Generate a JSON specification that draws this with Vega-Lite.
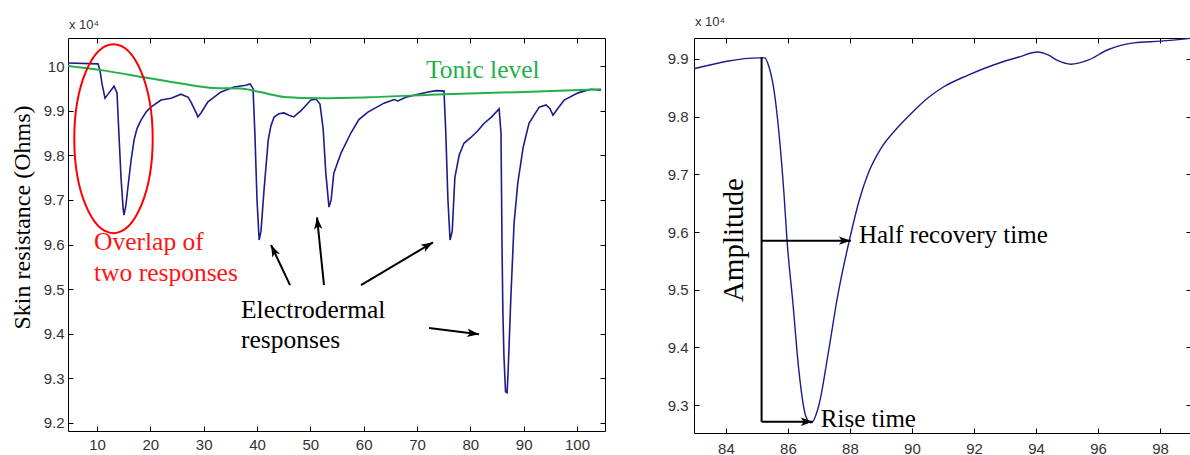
{
  "$schema": "https://vega.github.io/schema/vega-lite/v6.json",
  "padding": {"left": 9, "top": 15, "right": 0, "bottom": 0},
  "background": "white",
  "spacing": 60,
  "datasets": {
    "trace": [
      {"t":4.56,"r":10.007},{"t":10.19,"r":10.005},{"t":10.56,"r":9.99},{"t":10.94,"r":9.96},{"t":11.5,"r":9.928},{"t":12.25,"r":9.94},{"t":13.2,"r":9.955},{"t":13.75,"r":9.94},{"t":14.1,"r":9.85},{"t":14.5,"r":9.75},{"t":14.9,"r":9.68},{"t":15.06,"r":9.666},{"t":15.44,"r":9.69},{"t":15.8,"r":9.729},{"t":16.4,"r":9.79},{"t":16.94,"r":9.834},{"t":17.5,"r":9.86},{"t":18.25,"r":9.879},{"t":19.2,"r":9.897},{"t":20.1,"r":9.908},{"t":22.0,"r":9.924},{"t":23.9,"r":9.928},{"t":25.75,"r":9.937},{"t":27.1,"r":9.93},{"t":27.6,"r":9.92},{"t":28.6,"r":9.895},{"t":28.9,"r":9.886},{"t":29.5,"r":9.895},{"t":30.8,"r":9.92},{"t":33.25,"r":9.942},{"t":35.7,"r":9.953},{"t":37.9,"r":9.957},{"t":38.7,"r":9.96},{"t":39.25,"r":9.95},{"t":39.6,"r":9.85},{"t":40.0,"r":9.7},{"t":40.4,"r":9.61},{"t":40.75,"r":9.63},{"t":41.3,"r":9.72},{"t":42.1,"r":9.834},{"t":42.6,"r":9.866},{"t":43.2,"r":9.886},{"t":44.1,"r":9.893},{"t":45.06,"r":9.895},{"t":46.0,"r":9.89},{"t":46.9,"r":9.886},{"t":48.25,"r":9.9},{"t":50.1,"r":9.924},{"t":51.06,"r":9.926},{"t":51.8,"r":9.915},{"t":52.4,"r":9.86},{"t":52.9,"r":9.76},{"t":53.5,"r":9.684},{"t":53.9,"r":9.7},{"t":54.4,"r":9.76},{"t":55.75,"r":9.805},{"t":57.6,"r":9.85},{"t":59.1,"r":9.88},{"t":60.8,"r":9.897},{"t":63.8,"r":9.917},{"t":65.7,"r":9.925},{"t":66.4,"r":9.922},{"t":67.9,"r":9.93},{"t":70.2,"r":9.937},{"t":72.1,"r":9.942},{"t":73.6,"r":9.945},{"t":75.06,"r":9.944},{"t":75.4,"r":9.85},{"t":75.8,"r":9.7},{"t":76.2,"r":9.61},{"t":76.6,"r":9.63},{"t":77.1,"r":9.75},{"t":77.9,"r":9.8},{"t":78.8,"r":9.827},{"t":80.1,"r":9.84},{"t":81.4,"r":9.855},{"t":82.6,"r":9.872},{"t":83.9,"r":9.885},{"t":85.4,"r":9.904},{"t":85.75,"r":9.85},{"t":85.94,"r":9.6},{"t":86.1,"r":9.45},{"t":86.3,"r":9.35},{"t":86.6,"r":9.27},{"t":86.9,"r":9.268},{"t":87.1,"r":9.32},{"t":87.6,"r":9.482},{"t":88.2,"r":9.648},{"t":88.9,"r":9.738},{"t":89.9,"r":9.818},{"t":91.0,"r":9.872},{"t":92.9,"r":9.908},{"t":94.2,"r":9.913},{"t":94.9,"r":9.905},{"t":95.5,"r":9.89},{"t":96.4,"r":9.905},{"t":97.6,"r":9.924},{"t":100.2,"r":9.94},{"t":102.6,"r":9.948},{"t":104.5,"r":9.946}
    ],
    "tonic": [
      {"t":4.56,"r":10.0},{"t":10.75,"r":9.991},{"t":18.8,"r":9.975},{"t":25.75,"r":9.961},{"t":31.9,"r":9.951},{"t":37.0,"r":9.95},{"t":39.4,"r":9.945},{"t":42.0,"r":9.938},{"t":45.06,"r":9.931},{"t":52.0,"r":9.928},{"t":60.8,"r":9.93},{"t":75.06,"r":9.937},{"t":90.0,"r":9.942},{"t":104.5,"r":9.948}
    ],
    "zoomTrace": [
      {"t":82.97,"r":9.883},{"t":85.1,"r":9.902},{"t":85.25,"r":9.902},{"t":85.39,"r":9.886},{"t":85.55,"r":9.846},{"t":85.71,"r":9.772},{"t":85.87,"r":9.668},{"t":85.97,"r":9.586},{"t":86.16,"r":9.477},{"t":86.35,"r":9.361},{"t":86.58,"r":9.28},{"t":86.74,"r":9.269},{"t":87.0,"r":9.3},{"t":87.3,"r":9.39},{"t":87.6,"r":9.488},{"t":88.0,"r":9.59},{"t":88.3,"r":9.655},{"t":88.6,"r":9.703},{"t":89.0,"r":9.745},{"t":89.5,"r":9.779},{"t":90.0,"r":9.807},{"t":90.5,"r":9.832},{"t":91.0,"r":9.851},{"t":91.81,"r":9.872},{"t":92.65,"r":9.89},{"t":93.42,"r":9.903},{"t":94.06,"r":9.912},{"t":94.39,"r":9.907},{"t":94.71,"r":9.897},{"t":95.13,"r":9.891},{"t":95.68,"r":9.898},{"t":96.32,"r":9.916},{"t":97.16,"r":9.928},{"t":98.03,"r":9.931},{"t":99.0,"r":9.936}
    ]
  },
  "hconcat": [
    {
      "width": 537,
      "height": 393,
      "title": {"text": "x 10⁴", "anchor": "start", "frame": "group", "fontSize": 13, "font": "Liberation Sans", "fontWeight": "normal", "color": "#333", "offset": 6, "dx": 1},
      "layer": [
        {
          "data": {"name": "trace"},
          "mark": {"type": "line", "color": "#1c1c8a", "strokeWidth": 1.6},
          "encoding": {
            "x": {"field": "t", "type": "quantitative", "scale": {"domain": [4.56, 105.25], "nice": false, "zero": false},
                  "axis": {"values": [10,20,30,40,50,60,70,80,90,100], "title": null, "labelPadding": 11}},
            "y": {"field": "r", "type": "quantitative", "scale": {"domain": [9.182, 10.063], "nice": false, "zero": false},
                  "axis": {"values": [9.2,9.3,9.4,9.5,9.6,9.7,9.8,9.9,10.0], "format": "~g", "labelPadding": 9,
                           "title": "Skin resistance (Ohms)", "titleFont": "Liberation Serif", "titleFontSize": 24, "titleFontWeight": "normal", "titleColor": "#000",
                           "titleAngle": -90, "titleX": -46, "titleY": 179, "titleAlign": "center", "titleBaseline": "middle"}}
          }
        },
        {
          "data": {"name": "tonic"},
          "mark": {"type": "point", "opacity": 0},
          "encoding": {
            "x": {"field": "t", "type": "quantitative", "axis": {"orient": "top", "labels": false, "values": [10,20,30,40,50,60,70,80,90,100], "title": null}},
            "y": {"field": "r", "type": "quantitative", "axis": {"orient": "right", "labels": false, "values": [9.2,9.3,9.4,9.5,9.6,9.7,9.8,9.9,10.0], "title": null}}
          }
        },
        {
          "data": {"name": "tonic"},
          "mark": {"type": "line", "color": "#22b04b", "strokeWidth": 2, "interpolate": "monotone"},
          "encoding": {
            "x": {"field": "t", "type": "quantitative", "axis": null},
            "y": {"field": "r", "type": "quantitative", "axis": null}
          }
        },
        {
          "data": {"values": [{"x": 13.09, "y": 9.8374}]},
          "mark": {"type": "point", "shape": "M 0 -1 A 0.415 1 0 1 1 0 1 A 0.415 1 0 1 1 0 -1 Z", "size": 35721, "filled": false, "stroke": "#ff0000", "strokeWidth": 2, "opacity": 1},
          "encoding": {
            "x": {"field": "x", "type": "quantitative", "axis": null},
            "y": {"field": "y", "type": "quantitative", "axis": null}
          }
        },
        {
          "data": {"values": [{"x": 9.44, "y": 9.5874, "label": "Overlap of"}, {"x": 9.44, "y": 9.518, "label": "two responses"}]},
          "mark": {"type": "text", "align": "left", "baseline": "alphabetic", "font": "Liberation Serif", "fontSize": 25.5, "color": "#ff1414"},
          "encoding": {
            "x": {"field": "x", "type": "quantitative", "axis": null},
            "y": {"field": "y", "type": "quantitative", "axis": null},
            "text": {"field": "label"}
          }
        },
        {
          "data": {"values": [{"x": 37.0, "y": 9.436, "label": "Electrodermal"}, {"x": 37.0, "y": 9.368, "label": "responses"}]},
          "mark": {"type": "text", "align": "left", "baseline": "alphabetic", "font": "Liberation Serif", "fontSize": 25.5, "color": "#000"},
          "encoding": {
            "x": {"field": "x", "type": "quantitative", "axis": null},
            "y": {"field": "y", "type": "quantitative", "axis": null},
            "text": {"field": "label"}
          }
        },
        {
          "data": {"values": [{"x": 71.69, "y": 9.973, "label": "Tonic level"}]},
          "mark": {"type": "text", "align": "left", "baseline": "alphabetic", "font": "Liberation Serif", "fontSize": 25.5, "color": "#22b04b"},
          "encoding": {
            "x": {"field": "x", "type": "quantitative", "axis": null},
            "y": {"field": "y", "type": "quantitative", "axis": null},
            "text": {"field": "label"}
          }
        },
        {
          "data": {"values": [
            {"x": 46.19, "y": 9.509, "x2": 42.63, "y2": 9.599, "a": -25.4},
            {"x": 52.56, "y": 9.509, "x2": 51.25, "y2": 9.661, "a": -5.9},
            {"x": 59.5, "y": 9.509, "x2": 73.0, "y2": 9.605, "a": 59.2},
            {"x": 72.25, "y": 9.413, "x2": 81.63, "y2": 9.399, "a": 96.8}
          ]},
          "layer": [
            {
              "mark": {"type": "rule", "color": "#000", "strokeWidth": 2},
              "encoding": {
                "x": {"field": "x", "type": "quantitative", "axis": null},
                "y": {"field": "y", "type": "quantitative", "axis": null},
                "x2": {"field": "x2"},
                "y2": {"field": "y2"}
              }
            },
            {
              "mark": {"type": "point", "shape": "M 0 0 L -0.35 1 L 0 0.75 L 0.35 1 Z", "size": 576, "filled": true, "color": "#000", "opacity": 1, "strokeWidth": 0},
              "encoding": {
                "x": {"field": "x2", "type": "quantitative", "axis": null},
                "y": {"field": "y2", "type": "quantitative", "axis": null},
                "angle": {"field": "a", "type": "quantitative", "scale": null}
              }
            }
          ]
        }
      ],
      "resolve": {"axis": {"x": "independent", "y": "independent"}}
    },
    {
      "width": 497,
      "height": 395,
      "title": {"text": "x 10⁴", "anchor": "start", "frame": "group", "fontSize": 13, "font": "Liberation Sans", "fontWeight": "normal", "color": "#333", "offset": 6, "dx": 1},
      "layer": [
        {
          "data": {"name": "zoomTrace"},
          "mark": {"type": "line", "color": "#1c1c8a", "strokeWidth": 1.4, "interpolate": "monotone"},
          "encoding": {
            "x": {"field": "t", "type": "quantitative", "scale": {"domain": [82.97, 99.0], "nice": false, "zero": false},
                  "axis": {"values": [84,86,88,90,92,94,96,98], "title": null, "labelPadding": 13}},
            "y": {"field": "r", "type": "quantitative", "scale": {"domain": [9.2515, 9.9364], "nice": false, "zero": false},
                  "axis": {"values": [9.3,9.4,9.5,9.6,9.7,9.8,9.9], "format": "~g", "labelPadding": 11, "title": null}}
          }
        },
        {
          "data": {"name": "zoomTrace"},
          "mark": {"type": "point", "opacity": 0},
          "encoding": {
            "x": {"field": "t", "type": "quantitative", "axis": {"orient": "top", "labels": false, "values": [84,86,88,90,92,94,96,98], "title": null}},
            "y": {"field": "r", "type": "quantitative", "axis": {"orient": "right", "labels": false, "values": [9.3,9.4,9.5,9.6,9.7,9.8,9.9], "title": null}}
          }
        },
        {
          "data": {"values": [{"x": 85.15, "y": 9.903, "x2": 85.15, "y2": 9.271}]},
          "mark": {"type": "rule", "color": "#000", "strokeWidth": 2},
          "encoding": {
            "x": {"field": "x", "type": "quantitative", "axis": null},
            "y": {"field": "y", "type": "quantitative", "axis": null},
            "x2": {"field": "x2"},
            "y2": {"field": "y2"}
          }
        },
        {
          "data": {"values": [
            {"x": 85.15, "y": 9.585, "x2": 88.03, "y2": 9.585, "a": 90},
            {"x": 85.15, "y": 9.271, "x2": 86.8, "y2": 9.271, "a": 90}
          ]},
          "layer": [
            {
              "mark": {"type": "rule", "color": "#000", "strokeWidth": 2},
              "encoding": {
                "x": {"field": "x", "type": "quantitative", "axis": null},
                "y": {"field": "y", "type": "quantitative", "axis": null},
                "x2": {"field": "x2"},
                "y2": {"field": "y2"}
              }
            },
            {
              "mark": {"type": "point", "shape": "M 0 0 L -0.35 1 L 0 0.75 L 0.35 1 Z", "size": 576, "filled": true, "color": "#000", "opacity": 1, "strokeWidth": 0},
              "encoding": {
                "x": {"field": "x2", "type": "quantitative", "axis": null},
                "y": {"field": "y2", "type": "quantitative", "axis": null},
                "angle": {"field": "a", "type": "quantitative", "scale": null}
              }
            }
          ]
        },
        {
          "data": {"values": [{"x": 88.29, "y": 9.581, "label": "Half recovery time"}, {"x": 87.06, "y": 9.262, "label": "Rise time"}]},
          "mark": {"type": "text", "align": "left", "baseline": "alphabetic", "font": "Liberation Serif", "fontSize": 25, "color": "#000"},
          "encoding": {
            "x": {"field": "x", "type": "quantitative", "axis": null},
            "y": {"field": "y", "type": "quantitative", "axis": null},
            "text": {"field": "label"}
          }
        },
        {
          "data": {"values": [{"x": 84.26, "y": 9.586, "label": "Amplitude"}]},
          "mark": {"type": "text", "align": "center", "baseline": "middle", "angle": 270, "font": "Liberation Serif", "fontSize": 29, "color": "#000"},
          "encoding": {
            "x": {"field": "x", "type": "quantitative", "axis": null},
            "y": {"field": "y", "type": "quantitative", "axis": null},
            "text": {"field": "label"}
          }
        }
      ],
      "resolve": {"axis": {"x": "independent", "y": "independent"}}
    }
  ],
  "config": {
    "view": {"stroke": "#000", "strokeWidth": 1},
    "axis": {"domain": false, "grid": false, "ticks": true, "tickColor": "#000", "tickSize": -5, "tickWidth": 1,
             "labelFont": "Liberation Sans", "labelFontSize": 15, "labelColor": "#333", "labelFontWeight": "normal"}
  }
}
